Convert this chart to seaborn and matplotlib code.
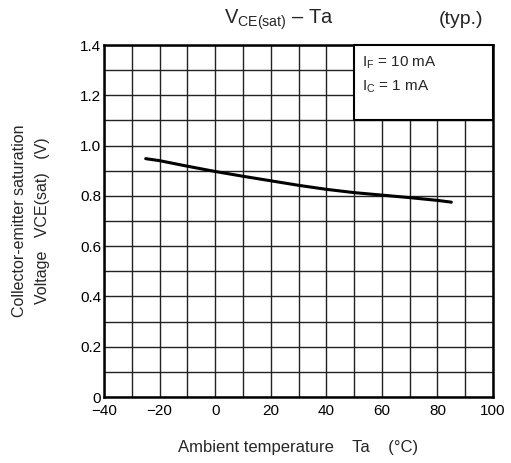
import matplotlib
matplotlib.use("Agg")
import matplotlib.pyplot as plt
import seaborn as sns
import pandas as pd
import numpy as np

temps = [-25, -20, -10, 0, 10, 20, 30, 40, 50, 60, 70, 80, 85]
vce = [0.948, 0.940, 0.918, 0.897, 0.878, 0.860, 0.842, 0.826, 0.813, 0.803, 0.793, 0.782, 0.775]
xticks = [-40, -20, 0, 20, 40, 60, 80, 100]
yticks = [0, 0.2, 0.4, 0.6, 0.8, 1.0, 1.2, 1.4]
ytick_labels = ["0", "0.2", "0.4", "0.6", "0.8", "1.0", "1.2", "1.4"]

sns.set_style("white")
plt.rcParams['font.family'] = ['Liberation Sans', 'DejaVu Sans']
plt.rcParams['mathtext.fontset'] = 'custom'
plt.rcParams['mathtext.rm'] = 'Liberation Sans'
plt.rcParams['mathtext.it'] = 'Liberation Sans'

fig = plt.figure(figsize=(5.11, 4.63), dpi=100)
ax = fig.add_axes([0.2035, 0.1425, 0.7613, 0.7603])

df = pd.DataFrame({"Ta": temps, "V": vce})
sns.lineplot(data=df, x="Ta", y="V", ax=ax, color="black", linewidth=2.2, zorder=5)

ax.set_xlim(-40, 100)
ax.set_ylim(0, 1.4)
ax.set_xticks(xticks)
ax.set_xticklabels([str(t).replace("-", "\u2212") for t in xticks])
ax.set_yticks(yticks)
ax.set_yticklabels(ytick_labels)
ax.set_xticks(np.arange(-40, 101, 10), minor=True)
ax.set_yticks(np.arange(0, 1.41, 0.1), minor=True)
ax.grid(True, which="both", color="#222222", linewidth=1.0)
ax.tick_params(which="both", length=0, labelsize=11, colors="black")
ax.tick_params(axis="x", pad=5)
ax.tick_params(axis="y", pad=2)
for s in ax.spines.values():
    s.set_color("black")
    s.set_linewidth(1.8)
    s.set_visible(True)

ax.set_xlabel("Ambient temperature    Ta    (\u00b0C)", fontsize=12, labelpad=16)
ax.set_ylabel("Collector-emitter saturation\nVoltage   VCE(sat)   (V)", fontsize=11.5, labelpad=22, linespacing=1.6)

# condition box
ax.fill_between([50, 100], 1.1, 1.4, color="white", zorder=3, linewidth=0)
ax.plot([50, 50, 100, 100, 50], [1.1, 1.4, 1.4, 1.1, 1.1], color="black", linewidth=1.5, zorder=4, clip_on=False)
ax.text(53, 1.331, r"I$_{\mathregular{F}}$ = 10 mA", fontsize=11, va="center", ha="left", zorder=6)
ax.text(53, 1.235, r"I$_{\mathregular{C}}$ = 1 mA", fontsize=11, va="center", ha="left", zorder=6)

fig.text(0.546, 0.958, r"V$_{\mathregular{CE(sat)}}$ – Ta", fontsize=14.5, ha="center", va="center")
fig.text(0.902, 0.958, "(typ.)", fontsize=14, ha="center", va="center")

fig.savefig("out.png", dpi=100)
